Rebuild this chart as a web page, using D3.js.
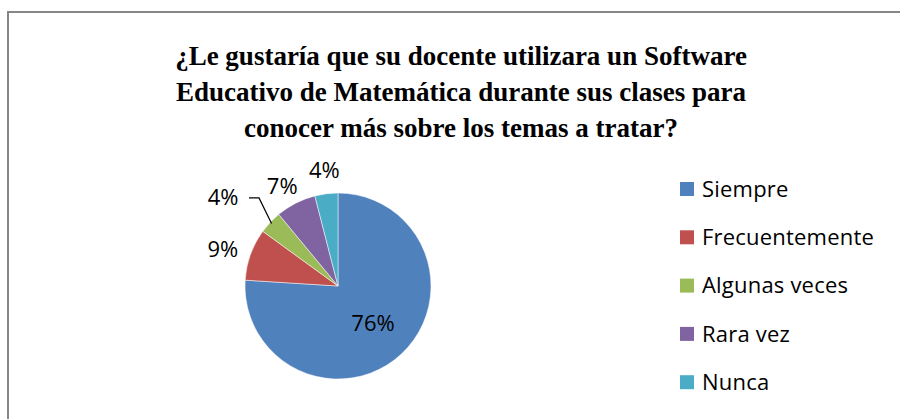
<!DOCTYPE html>
<html>
<head>
<meta charset="utf-8">
<script src="https://cdn.jsdelivr.net/npm/d3@7"></script>
<style>
  html, body { margin: 0; padding: 0; background: #fff; }
  svg { display: block; }
</style>
</head>
<body>
<div class="d3-canvas"></div>
<script>
const WIDTH = 900;
const HEIGHT = 419;

const titleLines = [
    '¿Le gustaría que su docente utilizara un Software',
    'Educativo de Matemática durante sus clases para',
    'conocer más sobre los temas a tratar?'
];
const categories = ['Siempre', 'Frecuentemente', 'Algunas veces', 'Rara vez', 'Nunca'];
const values = [76, 9, 4, 7, 4];
const colors = ['#4f81bd', '#c0504d', '#9bbb59', '#8064a2', '#4bacc6'];

const cx = 338, cy = 286, radius = 93;

const svg = d3.select('.d3-canvas')
    .append('svg')
        .attr('width', WIDTH)
        .attr('height', HEIGHT);

// Chart frame.
svg.append('rect')
    .attr('x', 8)
    .attr('y', 12)
    .attr('width', 900)
    .attr('height', 420)
    .attr('fill', 'none')
    .attr('stroke', '#868686')
    .attr('stroke-width', 2);

// Title.
const title = svg.append('g');
titleLines.forEach((line, i) => {
    title.append('text')
        .attr('x', 461)
        .attr('y', 65 + i * 36)
        .attr('text-anchor', 'middle')
        .style('font-family', "'Liberation Serif', 'Times New Roman', Tinos, serif")
        .style('font-weight', '700')
        .style('font-size', '27px')
        .text(line);
});

const data = categories.map((c, i) => ({name: c, value: values[i], color: colors[i]}));

const pie = d3.pie()
    .value(d => d.value)
    .sort(null);
const arc = d3.arc()
    .innerRadius(0)
    .outerRadius(radius);

const arcs = pie(data);

const chart = svg.append('g')
    .attr('transform', `translate(${cx}, ${cy})`);

chart.selectAll('path')
    .data(arcs)
    .enter()
    .append('path')
        .attr('d', arc)
        .attr('fill', d => d.data.color)
        .attr('stroke', '#fff')
        .attr('stroke-width', 0.5);

// Label positions: the big slice inside, the small ones outside.
const innerArc = d3.arc().innerRadius(radius * 0.55).outerRadius(radius * 0.55);
const outerArc = d3.arc().innerRadius(radius * 1.18).outerRadius(radius * 1.18);
const labelOffsets = [[0, 0], [-12, 0], [-35, -14], [-6, -2], [0, -7]];

const labelPos = arcs.map((d, i) => {
    const p = i === 0 ? innerArc.centroid(d) : outerArc.centroid(d);
    return [p[0] + labelOffsets[i][0], p[1] + labelOffsets[i][1]];
});

// Leader line for the green slice.
const g = arcs[2];
const edge = d3.arc().innerRadius(radius * 0.98).outerRadius(radius * 0.98).centroid(g);
chart.append('polyline')
    .attr('points', [
        [labelPos[2][0] + 26, labelPos[2][1] + 1],
        [labelPos[2][0] + 36, labelPos[2][1] + 1],
        edge
    ].map(p => p.join(',')).join(' '))
    .attr('fill', 'none')
    .attr('stroke', '#000')
    .attr('stroke-width', 1.2);

chart.selectAll('text')
    .data(arcs)
    .enter()
    .append('text')
        .attr('x', (d, i) => labelPos[i][0])
        .attr('y', (d, i) => labelPos[i][1])
        .attr('dy', '0.35em')
        .attr('text-anchor', 'middle')
        .style('font-family', "'Open Sans', sans-serif")
        .style('font-size', '22px')
        .attr('fill', '#000')
        .text(d => `${d.data.value}%`);

// Legend.
const legend = svg.append('g')
    .attr('transform', 'translate(680, 189)');

const rows = legend.selectAll('g')
    .data(data)
    .enter()
    .append('g')
        .attr('transform', (d, i) => `translate(0, ${i * 48.3})`);

rows.append('rect')
    .attr('x', 0)
    .attr('y', -7)
    .attr('width', 14)
    .attr('height', 14)
    .attr('fill', d => d.color);

rows.append('text')
    .attr('x', 22)
    .attr('y', 0)
    .attr('dy', '0.35em')
    .style('font-family', "'Open Sans', sans-serif")
    .style('font-size', '22px')
    .attr('letter-spacing', 0.2)
    .attr('fill', '#000')
    .text(d => d.name);
</script>
</body>
</html>
